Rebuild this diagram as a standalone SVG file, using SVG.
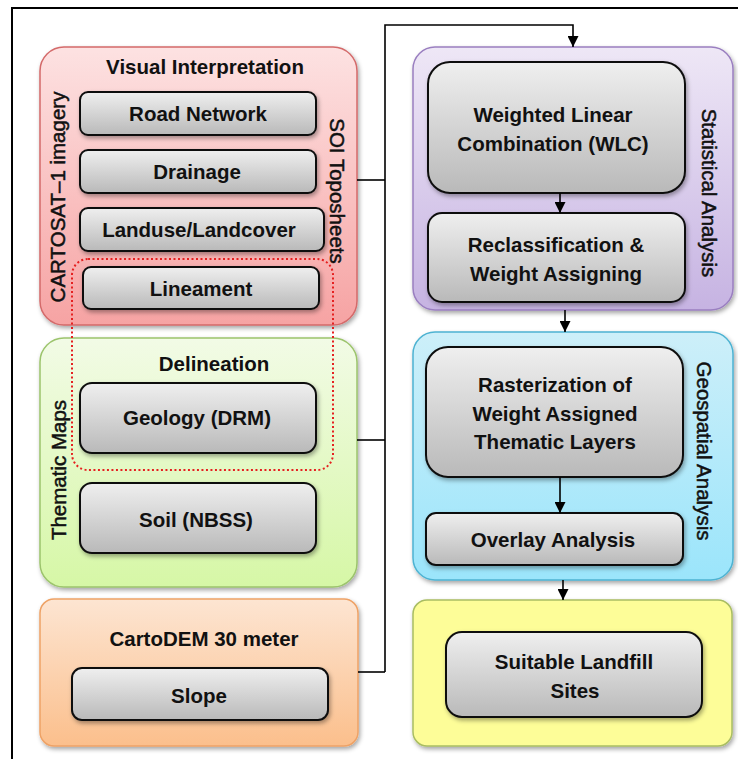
<svg xmlns="http://www.w3.org/2000/svg" width="738" height="759" viewBox="0 0 738 759">
<style>
.t{font-family:"Liberation Sans",Arial,sans-serif;font-weight:bold;font-size:20.5px;fill:#111;text-anchor:middle}
.v{font-family:"Liberation Sans",Arial,sans-serif;font-size:20.5px;fill:#111;stroke:#111;stroke-width:0.5;text-anchor:middle}
.box{fill:url(#gGrey);stroke:#111;stroke-width:2}
.con{stroke:#000;stroke-width:1.6;fill:none}
</style>
<defs>
<linearGradient id="gGrey" x1="0" y1="0" x2="0" y2="1"><stop offset="0" stop-color="#efefef"/><stop offset="1" stop-color="#b9b9b9"/></linearGradient>
<linearGradient id="gRed" x1="0" y1="0" x2="0" y2="1"><stop offset="0" stop-color="#fde2e2"/><stop offset="1" stop-color="#f6a3a3"/></linearGradient>
<linearGradient id="gGreen" x1="0" y1="0" x2="0" y2="1"><stop offset="0" stop-color="#f2fbe6"/><stop offset="1" stop-color="#d6f7a6"/></linearGradient>
<linearGradient id="gOrange" x1="0" y1="0" x2="0" y2="1"><stop offset="0" stop-color="#fde5d2"/><stop offset="1" stop-color="#fbbf8c"/></linearGradient>
<linearGradient id="gPurple" x1="0" y1="0" x2="0" y2="1"><stop offset="0" stop-color="#eee7f6"/><stop offset="1" stop-color="#c6b3e2"/></linearGradient>
<linearGradient id="gCyan" x1="0" y1="0" x2="0" y2="1"><stop offset="0" stop-color="#cdeff9"/><stop offset="1" stop-color="#9be5fb"/></linearGradient>
<filter id="sh" x="-10%" y="-10%" width="125%" height="130%"><feDropShadow dx="1.5" dy="2.5" stdDeviation="2" flood-color="#000" flood-opacity="0.35"/></filter>
<marker id="arr" viewBox="0 0 10 10" refX="10" refY="5" markerWidth="11" markerHeight="11" markerUnits="userSpaceOnUse" orient="auto"><path d="M0,0 L10,5 L0,10 Z" fill="#000"/></marker>
</defs>

<path d="M12,759 V8 H738" fill="none" stroke="#000" stroke-width="2"/>

<g id="visual-interpretation">
<rect x="40" y="47" width="317" height="278" rx="24" fill="url(#gRed)" stroke="#d46a6a" stroke-width="1.5" filter="url(#sh)"/>
<text class="t" x="205" y="74">Visual Interpretation</text>
<text class="v" transform="translate(65,197) rotate(-90)">CARTOSAT–1 imagery</text>
<text class="v" transform="translate(330,191) rotate(90)">SOI Toposheets</text>
</g>
<g id="road-network"><rect class="box" x="80" y="92" width="236" height="43" rx="8" filter="url(#sh)"/><text class="t" x="198" y="121">Road Network</text></g>
<g id="drainage"><rect class="box" x="80" y="150" width="236" height="43" rx="8" filter="url(#sh)"/><text class="t" x="197" y="179">Drainage</text></g>
<g id="landuse"><rect class="box" x="80" y="208" width="244" height="43" rx="8" filter="url(#sh)"/><text class="t" x="199" y="237">Landuse/Landcover</text></g>

<g id="delineation">
<rect x="40" y="338" width="317" height="249" rx="24" fill="url(#gGreen)" stroke="#9cc46c" stroke-width="1.5" filter="url(#sh)"/>
<text class="t" x="214" y="371">Delineation</text>
<text class="v" transform="translate(66,470) rotate(-90)">Thematic Maps</text>
</g>
<g id="lineament"><rect class="box" x="83" y="267" width="236" height="42" rx="8" filter="url(#sh)"/><text class="t" x="201" y="296">Lineament</text></g>
<g id="geology"><rect class="box" x="80" y="383" width="236" height="70" rx="12" filter="url(#sh)"/><text class="t" x="197" y="425">Geology (DRM)</text></g>
<g id="soil"><rect class="box" x="80" y="483" width="236" height="70" rx="12" filter="url(#sh)"/><text class="t" x="196" y="527">Soil (NBSS)</text></g>
<g id="dotted-group"><rect x="72" y="259" width="261" height="211" rx="16" fill="none" stroke="#e52020" stroke-width="2" stroke-dasharray="2 2.5"/></g>

<g id="cartodem">
<rect x="40" y="599" width="318" height="147" rx="14" fill="url(#gOrange)" stroke="#eea266" stroke-width="1.5" filter="url(#sh)"/>
<text class="t" x="204" y="646">CartoDEM 30 meter</text>
</g>
<g id="slope"><rect class="box" x="72" y="668" width="256" height="52" rx="10" filter="url(#sh)"/><text class="t" x="199" y="703">Slope</text></g>

<g id="statistical-analysis">
<rect x="413" y="47" width="320" height="263" rx="22" fill="url(#gPurple)" stroke="#9a7fc0" stroke-width="1.5" filter="url(#sh)"/>
<text class="v" transform="translate(702,193) rotate(90)">Statistical Analysis</text>
</g>
<g id="wlc"><rect class="box" x="428" y="62" width="257" height="131" rx="22" filter="url(#sh)"/><text class="t" x="553" y="122">Weighted Linear</text><text class="t" x="553" y="151">Combination (WLC)</text></g>
<g id="reclass"><rect class="box" x="428" y="213" width="257" height="89" rx="14" filter="url(#sh)"/><text class="t" x="556" y="252">Reclassification &amp;</text><text class="t" x="556" y="281">Weight Assigning</text></g>

<g id="geospatial-analysis">
<rect x="413" y="332" width="320" height="248" rx="22" fill="url(#gCyan)" stroke="#4eb3d2" stroke-width="1.5" filter="url(#sh)"/>
<text class="v" transform="translate(697,451) rotate(90)">Geospatial Analysis</text>
</g>
<g id="rasterization"><rect class="box" x="426" y="347" width="257" height="130" rx="22" filter="url(#sh)"/><text class="t" x="555" y="392">Rasterization of</text><text class="t" x="555" y="421">Weight Assigned</text><text class="t" x="555" y="449">Thematic Layers</text></g>
<g id="overlay"><rect class="box" x="426" y="513" width="257" height="52" rx="10" filter="url(#sh)"/><text class="t" x="553" y="547">Overlay Analysis</text></g>

<g id="suitable-container">
<rect x="413" y="600" width="319" height="146" rx="14" fill="#fdfd98" stroke="#a9bd62" stroke-width="1.5" filter="url(#sh)"/>
</g>
<g id="suitable"><rect class="box" x="446" y="632" width="256" height="85" rx="16" filter="url(#sh)"/><text class="t" x="574" y="669">Suitable Landfill</text><text class="t" x="575" y="698">Sites</text></g>

<g id="connectors">
<path class="con" d="M357,180 H385"/>
<path class="con" d="M357,440 H385"/>
<path class="con" d="M358,672 H385"/>
<path class="con" d="M385,672 V25 H573 V47" marker-end="url(#arr)"/>
<path class="con" d="M560,193 V213" marker-end="url(#arr)"/>
<path class="con" d="M565,310 V332" marker-end="url(#arr)"/>
<path class="con" d="M560,477 V513" marker-end="url(#arr)"/>
<path class="con" d="M563,580 V600" marker-end="url(#arr)"/>
</g>
</svg>
